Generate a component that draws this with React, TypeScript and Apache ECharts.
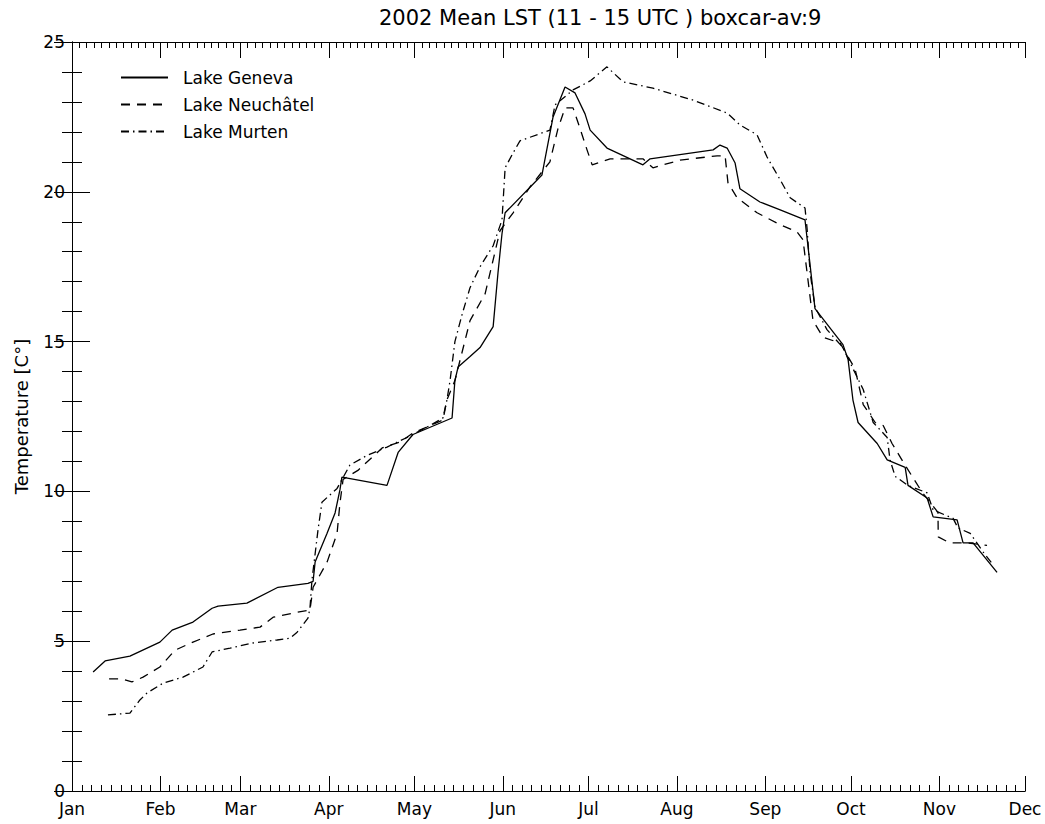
import React, { useEffect, useRef } from "react";
import * as echarts from "echarts";

const monthNames = ["Jan", "Feb", "Mar", "Apr", "May", "Jun", "Jul", "Aug", "Sep", "Oct", "Nov", "Dec"];
const monthStarts = [0, 31, 59, 90, 120, 151, 181, 212, 243, 273, 304, 334];
const yTicks = [0, 5, 10, 15, 20, 25];

const genevaDay = [7.4, 11.6, 20.3, 30.8, 35.1, 42.4, 49.1, 51.2, 61.3, 72.2, 82.7, 84.5, 85.2, 89.4, 92.2, 93.9, 94.6, 110.4, 114.3, 119.5, 133.2, 134.2, 135.3, 139.5, 143, 147.6, 149.3, 150.7, 151.8, 164.7, 168.6, 172.8, 176.3, 179.8, 181.6, 187.5, 200.1, 202.6, 224.7, 227.1, 229.6, 232.4, 234.1, 241.1, 248.2, 256.9, 260.4, 270.2, 272, 273.7, 275.5, 282.2, 285.7, 292, 293, 299.7, 301.8, 310.2, 312.3, 315.8, 324.2];
const genevaTemp = [3.97, 4.34, 4.5, 4.97, 5.37, 5.64, 6.1, 6.17, 6.27, 6.8, 6.93, 7.0, 7.64, 8.6, 9.28, 10.05, 10.48, 10.2, 11.3, 11.9, 12.45, 13.7, 14.15, 14.5, 14.8, 15.5, 17.3, 18.6, 19.3, 20.56, 22.5, 23.5, 23.3, 22.6, 22.06, 21.46, 20.9, 21.1, 21.4, 21.56, 21.46, 20.96, 20.1, 19.66, 19.4, 19.06, 16.1, 14.9, 14.4, 13.05, 12.3, 11.6, 11.05, 10.8, 10.2, 9.78, 9.15, 9.05, 8.28, 8.28, 7.3];

const neuchatelDay = [13, 17.5, 21, 24.9, 30.8, 36.1, 42.4, 49.4, 58.9, 65.9, 70.5, 77.5, 83.4, 84.5, 89.4, 92.9, 93.9, 95, 100.2, 108.7, 115, 119.5, 130, 131.4, 134.2, 139.5, 144.8, 150, 154.6, 160.5, 167.5, 170.3, 172.8, 175.6, 178.1, 180.5, 182.3, 188.6, 200.1, 203.6, 213.1, 226.1, 228.9, 229.9, 233.1, 240.1, 248.2, 254.1, 256.2, 259.7, 263.2, 269.2, 274.4, 277.3, 281.5, 284.3, 287.4, 291.3, 297.9, 303.5, 303.6, 307.7, 313.7, 320.7];
const neuchatelTemp = [3.74, 3.74, 3.64, 3.8, 4.14, 4.7, 4.97, 5.24, 5.37, 5.47, 5.8, 5.94, 6.04, 6.8, 7.64, 8.6, 9.6, 10.4, 10.7, 11.45, 11.65, 11.95, 12.38, 13.05, 13.7, 15.7, 16.6, 18.7, 19.3, 20.16, 21.0, 22.1, 22.8, 22.8, 22.1, 21.4, 20.9, 21.1, 21.1, 20.8, 21.06, 21.2, 21.2, 20.3, 19.8, 19.3, 18.9, 18.66, 18.4, 15.7, 15.15, 14.95, 14.1, 12.9, 12.3, 12.2, 11.6, 10.98, 9.98, 9.3, 8.48, 8.28, 8.28, 8.2];

const murtenDay = [12.6, 20.3, 23.8, 26.3, 31.9, 38.9, 45.9, 49.1, 55.4, 63.4, 71.9, 76.4, 78.9, 82.7, 83.4, 84.1, 86.2, 87.6, 92.9, 97.4, 103.4, 110.4, 117.4, 125.5, 130, 131.4, 132.5, 134.2, 136.7, 139.5, 143, 147.6, 150.7, 151.8, 154.6, 157, 167.5, 169.3, 175.6, 181.6, 187.5, 193.1, 203.6, 217.7, 229.6, 234.1, 240.1, 243.6, 248.2, 251.7, 256.9, 257.6, 258.7, 260.4, 264.6, 270.2, 273.7, 277.3, 280.8, 285.7, 286.7, 288.5, 293, 299.7, 301.8, 308.8, 310.5, 314.8, 319.3, 322.8];
const murtenTemp = [2.54, 2.6, 3.04, 3.27, 3.6, 3.8, 4.14, 4.64, 4.77, 4.94, 5.04, 5.1, 5.3, 5.77, 6.1, 7.04, 8.7, 9.64, 10.1, 10.88, 11.2, 11.48, 11.8, 12.2, 12.45, 13.05, 13.7, 15.0, 15.9, 16.8, 17.5, 18.2, 19.06, 20.8, 21.3, 21.7, 22.06, 22.9, 23.4, 23.7, 24.17, 23.67, 23.46, 23.06, 22.63, 22.23, 21.9, 21.16, 20.4, 19.8, 19.46, 18.8, 17.3, 16.15, 15.4, 14.8, 14.1, 13.4, 12.3, 11.8, 11.05, 10.5, 10.2, 9.95, 9.38, 9.1, 8.78, 8.6, 7.98, 7.55];

const FONT = "DejaVu Sans";
const INK = "#000";

function zip(a: number[], b: number[]) {
  return a.map((d, i) => [d, b[i]]);
}

function minorValues(perMonth: (days: number) => number) {
  const out: number[] = [];
  for (let i = 0; i < monthStarts.length - 1; i++) {
    const a = monthStarts[i];
    const b = monthStarts[i + 1];
    const n = perMonth(b - a);
    for (let k = 1; k < n; k++) out.push(a + (k * (b - a)) / n);
  }
  return out;
}

export default function App() {
  const ref = useRef<HTMLDivElement>(null);
  useEffect(() => {
    if (!ref.current) return;
    const chart = echarts.init(ref.current, null, { renderer: "svg" });
    const xMin = monthStarts[0];
    const xMax = monthStarts[monthStarts.length - 1];
    const bottomMinor = minorValues(() => 9);
    const topMinor = minorValues((d) => Math.round(d / 2.6));
    const lineAxis = { show: true, lineStyle: { color: INK, width: 1 } };
    const baseX = {
      type: "value",
      min: xMin,
      max: xMax,
      splitLine: { show: false },
      axisLine: lineAxis,
    };
    chart.setOption({
      animation: false,
      backgroundColor: "#fff",
      title: {
        text: "2002 Mean LST (11 - 15 UTC ) boxcar-av:9",
        left: 374,
        top: 2,
        textStyle: { fontFamily: FONT, fontSize: 21, fontWeight: "normal", color: INK },
      },
      legend: {
        orient: "vertical",
        left: 120,
        top: 69,
        padding: 0,
        itemWidth: 47,
        itemHeight: 14,
        itemGap: 10,
        selectedMode: false,
        itemStyle: { color: "rgba(0,0,0,0)", borderColor: "rgba(0,0,0,0)", borderWidth: 0, opacity: 0 },
        textStyle: { fontFamily: FONT, fontSize: 17, color: INK, lineHeight: 15, padding: [0, 0, 0, 10] },
        data: ["Lake Geneva", "Lake Neuchâtel", "Lake Murten"],
      },
      grid: { left: 72, top: 42, width: 953, height: 749, containLabel: false },
      xAxis: [
        {
          ...baseX,
          position: "bottom",
          axisTick: { show: true, inside: true, length: 15, customValues: monthStarts, lineStyle: { color: INK } },
          axisLabel: {
            show: true,
            customValues: monthStarts,
            margin: 9,
            fontFamily: FONT,
            fontSize: 17,
            color: INK,
            formatter: (v: number) => monthNames[monthStarts.indexOf(Math.round(v))] ?? "",
          },
        },
        {
          ...baseX,
          position: "bottom",
          axisTick: { show: true, inside: true, length: 6, customValues: bottomMinor, lineStyle: { color: INK } },
          axisLabel: { show: false },
        },
        {
          ...baseX,
          position: "top",
          axisTick: { show: true, inside: true, length: 16, customValues: monthStarts, lineStyle: { color: INK } },
          axisLabel: { show: false },
        },
        {
          ...baseX,
          position: "top",
          axisTick: { show: true, inside: true, length: 6, customValues: topMinor, lineStyle: { color: INK } },
          axisLabel: { show: false },
        },
      ],
      yAxis: [
        {
          type: "value",
          position: "left",
          min: yTicks[0],
          max: yTicks[yTicks.length - 1],
          interval: 5,
          splitLine: { show: false },
          axisLine: lineAxis,
          axisTick: { show: true, inside: true, length: 18, lineStyle: { color: INK } },
          minorTick: { show: true, splitNumber: 5, length: 10, lineStyle: { color: INK } },
          axisLabel: { margin: 7, fontFamily: FONT, fontSize: 17, color: INK },
          name: "Temperature [C°]",
          nameLocation: "middle",
          nameGap: 42,
          nameRotate: 90,
          nameTextStyle: { fontFamily: FONT, fontSize: 18, color: INK },
        },
        {
          type: "value",
          position: "right",
          min: yTicks[0],
          max: yTicks[yTicks.length - 1],
          interval: 5,
          splitLine: { show: false },
          axisLine: lineAxis,
          axisTick: { show: true, inside: true, length: 18, lineStyle: { color: INK } },
          minorTick: { show: true, splitNumber: 5, length: 10, lineStyle: { color: INK } },
          axisLabel: { show: false },
        },
      ],
      series: [
        {
          name: "Lake Geneva",
          type: "line",
          xAxisIndex: 0,
          yAxisIndex: 0,
          data: zip(genevaDay, genevaTemp),
          symbol: "none",
          lineStyle: { color: INK, width: 1.3, type: "solid" },
          itemStyle: { color: INK },
        },
        {
          name: "Lake Neuchâtel",
          type: "line",
          xAxisIndex: 0,
          yAxisIndex: 0,
          data: zip(neuchatelDay, neuchatelTemp),
          symbol: "none",
          lineStyle: { color: INK, width: 1.3, type: [9, 7] },
          itemStyle: { color: INK },
        },
        {
          name: "Lake Murten",
          type: "line",
          xAxisIndex: 0,
          yAxisIndex: 0,
          data: zip(murtenDay, murtenTemp),
          symbol: "none",
          lineStyle: { color: INK, width: 1.3, type: [8, 4, 1.5, 4] },
          itemStyle: { color: INK },
        },
      ],
    });
    return () => chart.dispose();
  }, []);
  return (
    <div
      ref={ref}
      style={{ position: "fixed", left: 0, top: 0, width: 1045, height: 824, background: "#fff" }}
    />
  );
}
